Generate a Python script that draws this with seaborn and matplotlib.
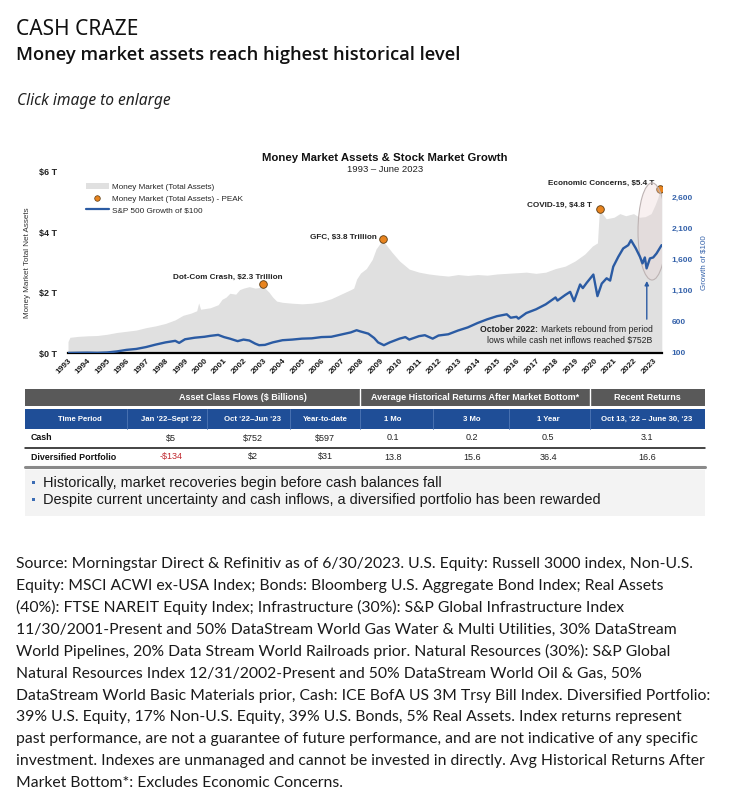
import matplotlib
matplotlib.use("Agg")
import matplotlib.pyplot as plt
import seaborn as sns
import pandas as pd
from matplotlib.patches import Ellipse, Rectangle, Patch
from matplotlib.lines import Line2D

# ---------------- data ----------------
mm_years = [1993.0, 1993.1, 1993.5, 1994.0, 1994.5, 1995.0, 1995.5, 1996.0, 1996.5, 1997.0,
            1997.5, 1998.0, 1998.5, 1998.9, 1999.3, 1999.6, 1999.7, 1999.8, 2000.3, 2000.7,
            2000.9, 2001.1, 2001.3, 2001.6, 2001.8, 2002.0, 2002.3, 2002.6, 2002.9, 2003.1,
            2003.3, 2003.5, 2003.7, 2004.0, 2004.5, 2005.0, 2005.5, 2006.0, 2006.5, 2007.0,
            2007.5, 2007.65, 2007.8, 2008.0, 2008.3, 2008.6, 2008.8, 2009.1, 2009.3, 2009.6,
            2010.0, 2010.5, 2011.0, 2011.5, 2012.0, 2012.5, 2013.0, 2013.5, 2014.0, 2014.5,
            2015.0, 2015.5, 2016.0, 2016.5, 2017.0, 2017.5, 2018.0, 2018.5, 2019.0, 2019.5,
            2019.9, 2020.15, 2020.25, 2020.4, 2020.6, 2021.0, 2021.3, 2021.6, 2022.0, 2022.3,
            2022.6, 2022.9, 2023.1, 2023.25, 2023.35, 2023.45]
mm_assets = [0.38, 0.52, 0.55, 0.57, 0.58, 0.62, 0.68, 0.72, 0.76, 0.84,
             0.90, 0.98, 1.10, 1.25, 1.32, 1.40, 1.66, 1.45, 1.50, 1.60,
             1.78, 1.85, 1.98, 1.95, 2.10, 2.15, 2.20, 2.15, 2.18, 2.15,
             2.02, 1.85, 1.72, 1.68, 1.65, 1.63, 1.65, 1.70, 1.80, 1.95,
             2.10, 2.15, 2.45, 2.65, 2.80, 3.10, 3.45, 3.72, 3.60, 3.35,
             3.05, 2.78, 2.68, 2.62, 2.58, 2.55, 2.60, 2.57, 2.60, 2.58,
             2.62, 2.64, 2.66, 2.68, 2.64, 2.68, 2.80, 2.88, 3.05, 3.28,
             3.55, 3.65, 4.75, 4.62, 4.45, 4.50, 4.62, 4.55, 4.62, 4.50,
             4.52, 4.62, 4.90, 5.15, 5.42, 5.45]

sp_years = [1993.0, 1993.5, 1994.0, 1994.5, 1995.0, 1995.5, 1996.0, 1996.5, 1997.0, 1997.5,
            1998.0, 1998.5, 1998.7, 1999.0, 1999.5, 2000.0, 2000.3, 2000.7, 2001.0, 2001.3,
            2001.7, 2002.0, 2002.3, 2002.6, 2002.8, 2003.1, 2003.5, 2004.0, 2004.5, 2005.0,
            2005.5, 2006.0, 2006.5, 2007.0, 2007.5, 2007.8, 2008.0, 2008.4, 2008.7, 2008.9,
            2009.2, 2009.5, 2010.0, 2010.3, 2010.5, 2011.0, 2011.3, 2011.7, 2012.0, 2012.5,
            2013.0, 2013.5, 2014.0, 2014.5, 2015.0, 2015.5, 2015.7, 2016.0, 2016.1, 2016.5,
            2017.0, 2017.5, 2018.0, 2018.1, 2018.5, 2018.75, 2018.95, 2019.26, 2019.4, 2019.6,
            2019.94, 2020.15, 2020.37, 2020.62, 2020.8, 2020.96, 2021.22, 2021.47, 2021.73, 2021.87,
            2022.12, 2022.33, 2022.46, 2022.58, 2022.67, 2022.84, 2023.01, 2023.18, 2023.44]
sp_growth = [100, 103, 105, 102, 108, 125, 150, 165, 195, 235,
             270, 295, 262, 320, 345, 360, 375, 390, 355, 330,
             290, 315, 300, 250, 225, 230, 270, 305, 315, 330,
             335, 355, 360, 395, 430, 465, 445, 410, 340, 270,
             225, 270, 330, 355, 315, 370, 385, 330, 380, 400,
             460, 510, 580, 640, 690, 720, 665, 680, 650, 740,
             800, 880, 990, 940, 1030, 1080, 930, 1198, 1140, 1225,
             1357, 1011, 1212, 1297, 1260, 1483, 1642, 1775, 1828, 1908,
             1775, 1642, 1536, 1631, 1456, 1615, 1631, 1695, 1828]

peak_years = [2003.0, 2009.14, 2020.3, 2023.35]
peak_values = [2.29, 3.77, 4.77, 5.45]
peak_labels = ["Dot-Com Crash, $2.3 Trillion", "GFC, $3.8 Trillion",
               "COVID-19, $4.8 T", "Economic Concerns, $5.4 T"]

year_ticks = list(range(1993, 2024))
left_ticks = [0, 2, 4, 6]
left_tick_labels = ["$0 T", "$2 T", "$4 T", "$6 T"]
right_ticks = [100, 600, 1100, 1600, 2100, 2600]
right_tick_labels = ["100", "600", "1,100", "1,600", "2,100", "2,600"]

table_groups = ["Asset Class Flows ($ Billions)",
                "Average Historical Returns After Market Bottom*", "Recent Returns"]
table_columns = ["Time Period", "Jan \u201822\u2013Sept \u201822", "Oct \u201822\u2013Jun \u201823",
                 "Year-to-date", "1 Mo", "3 Mo", "1 Year",
                 "Oct 13, \u201822 \u2013 June 30, \u201823"]
cash_row = ["Cash", "$5", "$752", "$597", "0.1", "0.2", "0.5", "3.1"]
div_row = ["Diversified Portfolio", "-$134", "$2", "$31", "13.8", "15.6", "36.4", "16.6"]

bullets = ["Historically, market recoveries begin before cash balances fall",
           "Despite current uncertainty and cash inflows, a diversified portfolio has been rewarded"]

source_lines = [
    "Source: Morningstar Direct & Refinitiv as of 6/30/2023. U.S. Equity: Russell 3000 index, Non-U.S.",
    "Equity: MSCI ACWI ex-USA Index; Bonds: Bloomberg U.S. Aggregate Bond Index; Real Assets",
    "(40%): FTSE NAREIT Equity Index; Infrastructure (30%): S&P Global Infrastructure Index",
    "11/30/2001-Present and 50% DataStream World Gas Water & Multi Utilities, 30% DataStream",
    "World Pipelines, 20% Data Stream World Railroads prior. Natural Resources (30%): S&P Global",
    "Natural Resources Index 12/31/2002-Present and 50% DataStream World Oil & Gas, 50%",
    "DataStream World Basic Materials prior, Cash: ICE BofA US 3M Trsy Bill Index. Diversified Portfolio:",
    "39% U.S. Equity, 17% Non-U.S. Equity, 39% U.S. Bonds, 5% Real Assets. Index returns represent",
    "past performance, are not a guarantee of future performance, and are not indicative of any specific",
    "investment. Indexes are unmanaged and cannot be invested in directly. Avg Historical Returns After",
    "Market Bottom*: Excludes Economic Concerns.",
]

# ---------------- style ----------------
sns.set_theme(style="white")
plt.rcParams['font.family'] = ['Liberation Sans', 'DejaVu Sans']
plt.rcParams['mathtext.default'] = 'regular'

W, H = 730, 792
fig = plt.figure(figsize=(W / 100, H / 100), dpi=100)
fig.patch.set_facecolor('white')
renderer = fig.canvas.get_renderer()

BLUE = '#2b5ba3'
TICKBLUE = '#3562aa'
ORANGE = '#e8841f'
AREA = '#e0e0e0'


def fit_size(text, target, family, weight='normal', style='normal', base=10.0):
    t = fig.text(0, 0, text, fontsize=base, family=family, weight=weight, style=style)
    w = t.get_window_extent(renderer=renderer).width
    t.remove()
    return base * target / w


def px(x, y):
    return x / W, 1 - y / H


# ---------------- chart ----------------
x0, x1, ytop, ybot = 68, 661.8, 172, 353
ax = fig.add_axes([x0 / W, 1 - ybot / H, (x1 - x0) / W, (ybot - ytop) / H])
ax.set_facecolor('none')
mm = pd.DataFrame({"year": mm_years, "assets": mm_assets})
ax.fill_between(mm["year"], mm["assets"], color=AREA, lw=0, zorder=1)
ax.set_xlim(1993, 2023.45)
ax.set_ylim(0, 6)
ax.set_yticks(left_ticks)
ax.set_yticklabels(left_tick_labels, fontsize=6.5, fontweight='bold', color='#222222')
ax.set_xticks(year_ticks)
ax.set_xticklabels([str(y) for y in year_ticks], rotation=45, ha='right',
                   rotation_mode='anchor', fontsize=6.0, fontweight='bold', color='#1a1a1a')
ax.tick_params(axis='both', length=0)
ax.tick_params(axis='y', pad=8)
ax.tick_params(axis='x', pad=3)
for s in ['top', 'right', 'left']:
    ax.spines[s].set_visible(False)
ax.spines['bottom'].set_color('black')
ax.spines['bottom'].set_linewidth(1.6)
ax.spines['bottom'].set_zorder(5)
ax.set_ylabel("Money Market Total Net Assets", fontsize=5.8, color='#333333')
ax.yaxis.set_label_coords(-0.062, 0.5)

peaks = pd.DataFrame({"year": peak_years, "value": peak_values})
sns.scatterplot(data=peaks, x="year", y="value", ax=ax, color=ORANGE, edgecolor='#5a3a10',
                linewidth=0.6, s=30, zorder=6, legend=False)
ax.set_xlabel("")

# labels of peaks
LBL = 5.85
ax.text(2001.2, 2.52, peak_labels[0], fontsize=LBL, fontweight='bold', ha='center', va='center', color='#222222', zorder=7)
ax.text(2007.1, 3.85, peak_labels[1], fontsize=LBL, fontweight='bold', ha='center', va='center', color='#222222', zorder=7)
ax.text(2019.87, 4.88, peak_labels[2], fontsize=LBL, fontweight='bold', ha='right', va='center', color='#222222', zorder=7)
ax.text(2023.08, 5.63, peak_labels[3], fontsize=LBL, fontweight='bold', ha='right', va='center', color='#222222', zorder=7)

ax2 = ax.twinx()
ax2.set_ylim(100, 3000)
sp = pd.DataFrame({"year": sp_years, "growth": sp_growth})
ell = Ellipse((2022.95, 4.03), 1.44, 3.22, transform=ax.transData,
              facecolor=(0.92, 0.84, 0.84, 0.35), edgecolor='#bdb3b3', lw=0.8, zorder=1)
ax2.add_patch(ell)
sns.lineplot(data=sp, x="year", y="growth", ax=ax2, color=BLUE, lw=1.7, zorder=3)
ax2.set_xlabel("")
ax2.set_yticks(right_ticks)
ax2.set_yticklabels(right_tick_labels, fontsize=6.0, fontweight='bold', color=TICKBLUE)
ax2.tick_params(axis='y', length=0, pad=7)
for s in ['top', 'right', 'left', 'bottom']:
    ax2.spines[s].set_visible(False)
ax2.set_ylabel("Growth of $100", fontsize=5.8, color=TICKBLUE)
ax2.yaxis.set_label_coords(1.065, 0.5)

ax2.annotate('', xy=(2022.68, 2.48), xytext=(2022.68, 1.03), xycoords=ax.transData,
             textcoords=ax.transData,
             arrowprops=dict(arrowstyle='-|>', color=BLUE, lw=1.0, mutation_scale=6))
t1 = ax2.text(2022.98, 0.77, "Markets rebound from period", transform=ax.transData,
              fontsize=6.2, ha='right', va='center', color='#222222')
ax2.annotate("October 2022: ", xy=(0, 0.5), xycoords=t1, fontsize=6.2, fontweight='bold',
             ha='right', va='center', color='#222222')
ax2.text(2022.98, 0.42, "lows while cash net inflows reached $752B", transform=ax.transData,
         fontsize=6.2, ha='right', va='center', color='#222222')

handles = [Patch(facecolor=AREA, edgecolor='none'),
           Line2D([], [], marker='o', ls='', color=ORANGE, mec='#5a3a10', mew=0.5, ms=4.0),
           Line2D([], [], color=BLUE, lw=1.6)]
ax2.legend(handles, ["Money Market (Total Assets)", "Money Market (Total Assets) - PEAK",
                     "S&P 500 Growth of $100"],
           loc='upper left', bbox_to_anchor=(0.03, 0.94), frameon=False, fontsize=5.9,
           handlelength=2.8, handleheight=0.8, handletextpad=0.4, labelspacing=0.45,
           borderpad=0, borderaxespad=0)

fig.text(*px(385, 158), "Money Market Assets & Stock Market Growth", ha='center', va='center',
         fontsize=8.2, fontweight='bold', color='#111111')
fig.text(*px(385, 170), "1993 \u2013 June 2023", ha='center', va='center', fontsize=6.8, color='#222222')

# ---------------- page overlay ----------------
page = fig.add_axes([0, 0, 1, 1])
page.set_xlim(0, W)
page.set_ylim(H, 0)
page.axis('off')

s1 = fit_size("CASH CRAZE", 123, 'Noto Sans')
page.text(16, 35, "CASH CRAZE", fontsize=s1, family='Noto Sans', va='baseline', color='#111111')
sub = "Money market assets reach highest historical level"
s2 = fit_size(sub, 447, 'Open Sans', weight=600)
page.text(16, 60, sub, fontsize=s2, family='Open Sans', weight=600, va='baseline', color='#111111')
s3 = fit_size("Click image to enlarge", 154, 'Noto Sans', style='italic')
page.text(17, 105, "Click image to enlarge", fontsize=s3, family='Noto Sans', style='italic',
          va='baseline', color='#222222')

# table
TL, TR = 25, 705
page.add_patch(Rectangle((TL, 389), TR - TL, 17, color='#595959', lw=0))
for xs in [360, 590]:
    page.plot([xs, xs], [389, 406], color='white', lw=1.0)
page.add_patch(Rectangle((TL, 409), TR - TL, 20, color='#1f4e97', lw=0))
for xs in [127, 207, 290, 360, 433, 509, 590]:
    page.plot([xs, xs], [409, 429], color='#5077b5', lw=0.6)
group_cx = [243, 475, 647]
for cx, g in zip(group_cx, table_groups):
    page.text(cx, 397.5, g, ha='center', va='center', fontsize=6.5, fontweight='bold', color='white')
col_cx = [80, 171, 253, 325, 393, 472, 548, 647]
for cx, c in zip(col_cx, table_columns):
    page.text(cx, 419.5, c, ha='center', va='center', fontsize=5.6, fontweight='bold', color='white')
for row, yy in [(cash_row, 438), (div_row, 457)]:
    page.text(31, yy, row[0], ha='left', va='center', fontsize=6.4, fontweight='bold', color='#111111')
    for cx, v in zip(col_cx[1:], row[1:]):
        col = '#c0262d' if v.startswith('-') else '#222222'
        page.text(cx, yy, v, ha='center', va='center', fontsize=6.5, color=col)
page.plot([TL, TR], [447.5, 447.5], color='#111111', lw=1.1)
page.plot([TL, TR], [466.5, 466.5], color='#8a8a8a', lw=2.2)

# bullets box
page.add_patch(Rectangle((TL, 470), TR - TL, 46, color='#f3f3f3', lw=0))
sb = fit_size(bullets[1], 557, 'Liberation Sans')
for yy, b in zip([483, 500], bullets):
    page.add_patch(Rectangle((31.5, yy - 2), 3.2, 3.2, color='#3b6cb4', lw=0))
    page.text(43, yy, b, ha='left', va='center', fontsize=sb, color='#1a1a1a')

# source
ss = fit_size(source_lines[0], 674, 'Lato')
for i, line in enumerate(source_lines):
    page.text(16, 568.3 + i * 21.87, line, fontsize=ss, family='Lato', va='baseline', color='#1a1a1a')

fig.savefig("out.png", dpi=100, facecolor='white')
